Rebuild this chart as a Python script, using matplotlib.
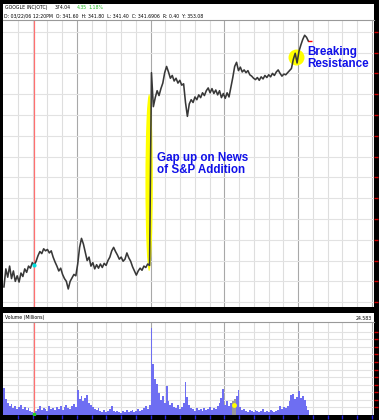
import matplotlib
matplotlib.use("Agg")
import matplotlib.pyplot as plt
from matplotlib.patches import Ellipse
import numpy as np

# 10 minute bars, 39 per trading day, 5 days on screen
BARS_PER_DAY = 39

close = [
    # day 0
    338.6, 341.2, 340.0, 341.6, 339.8, 340.9, 339.4, 340.2, 339.3, 340.6,
    340.1, 341.2, 340.7, 341.6, 341.3, 342.1, 341.7, 342.3, 343.1, 343.7,
    343.4, 344.1, 343.8, 344.0, 343.5, 343.8, 342.9, 342.2, 341.6, 340.9,
    341.3, 340.4, 339.8, 339.4, 338.3, 339.4, 339.9, 340.4, 340.2,
    # day 1
    341.9, 344.3, 345.6, 344.8, 343.6, 342.4, 342.9, 341.6, 342.1, 341.2,
    341.8, 341.3, 341.9, 341.4, 342.0, 341.7, 342.4, 342.9, 343.8, 344.3,
    343.7, 343.2, 342.6, 342.9, 342.3, 342.6, 343.5, 342.8, 342.3, 341.5,
    340.9, 340.3, 340.9, 341.3, 341.0, 341.6, 341.4, 341.9, 341.7,
    # day 2 (gap up)
    369.5, 364.6, 365.9, 366.9, 366.2, 367.2, 368.0, 369.5, 370.4, 369.6,
    368.7, 369.1, 368.3, 368.7, 368.0, 368.4, 367.7, 367.9, 365.2, 363.2,
    365.0, 365.6, 365.2, 366.0, 365.6, 366.3, 365.9, 366.6, 366.2, 366.9,
    367.3, 366.6, 367.2, 366.5, 367.0, 366.3, 366.9, 365.9, 366.5,
    # day 3
    365.8, 366.6, 366.0, 367.4, 368.8, 370.4, 371.0, 369.8, 370.3, 369.6,
    369.9, 369.5, 369.8, 369.2, 369.0, 368.7, 368.5, 368.8, 368.4, 368.9,
    368.6, 369.1, 368.8, 369.2, 368.9, 369.4, 369.1, 369.6, 369.9, 369.4,
    369.0, 369.3, 369.2, 369.5, 369.8, 370.1, 371.4, 372.3, 370.9,
    # day 4
    372.6, 373.5, 374.3, 374.9, 374.6, 374.04,
]

volume = [
    7.2, 4.3, 3.2, 2.4, 2.9, 1.9, 2.4, 1.6, 2.1, 2.7,
    1.6, 2.1, 1.3, 1.9, 1.1, 0.8, 0.5, 1.1, 1.6, 2.4,
    1.3, 1.9, 1.6, 1.1, 2.4, 1.6, 1.9, 1.3, 2.1, 1.6,
    2.4, 1.3, 2.1, 2.7, 1.9, 1.6, 2.4, 2.9, 2.1,
    6.7, 4.3, 5.1, 3.7, 4.5, 5.3, 3.2, 2.7, 2.1, 1.6,
    1.3, 1.9, 1.1, 0.8, 1.3, 0.8, 1.1, 1.6, 2.4, 1.1,
    0.8, 1.1, 0.8, 0.5, 1.1, 0.8, 1.3, 0.8, 1.1, 1.3,
    0.8, 1.1, 1.6, 1.1, 1.3, 1.9, 2.4, 1.6, 2.7,
    23.0, 13.4, 9.6, 8.3, 5.9, 4.0, 5.1, 3.2, 7.7, 3.7,
    2.7, 3.2, 2.1, 1.9, 2.7, 1.6, 2.1, 3.2, 8.8, 4.8,
    2.7, 1.9, 1.6, 1.1, 1.9, 1.3, 1.6, 1.1, 1.9, 1.3,
    1.6, 2.1, 1.3, 1.9, 1.6, 2.4, 3.2, 4.5, 6.9,
    2.7, 3.7, 2.4, 3.2, 3.7, 4.3, 5.1, 6.7, 2.1, 1.3,
    1.6, 1.1, 0.8, 1.3, 1.1, 0.8, 1.3, 1.1, 0.8, 1.1,
    1.6, 0.8, 1.1, 0.8, 1.3, 1.1, 0.8, 1.1, 1.3, 2.4,
    1.6, 2.1, 1.9, 2.4, 3.7, 5.3, 5.6, 4.3, 4.8,
    6.4, 4.5, 5.1, 4.0, 2.4, 1.3,
]
marked_volume_bars = [121, 122]

symbol = "GOOGLE INC(OTC)"
last_price = "374.04"
change = "4.35"
change_pct = "1.18%"
cursor_info = "D: 03/22/06 12:20PM  O: 341.60  H: 341.80  L: 341.40  C: 341.6906  R: 0.40  Y: 353.08"
vol_title = "Volume (Millions)"
vol_max_label = "24.583"

cursor_day = 0.425
cursor_price = 341.69
gap_day, gap_low, gap_high = 1.981, 340.9, 366.4
breakout_day, breakout_price = 3.976, 371.8

# ---------------------------------------------------------------
W, H = 379, 420
fig = plt.figure(figsize=(W / 100, H / 100), dpi=100, facecolor="black")


def px_axes(left, top, right, bottom):
    return fig.add_axes([left / W, 1 - bottom / H, (right - left) / W, (bottom - top) / H])


x = (np.arange(len(close)) + 0.5) / BARS_PER_DAY
xmax = 5.03
vgrid = np.arange(0.2, 5.01, 0.2)


def draw_grid(ax, hlines):
    for g in vgrid:
        day_line = abs(g - round(g)) < 1e-6
        ax.axvline(g, color="#a8a8a8" if day_line else "#dedede", lw=0.8, zorder=0)
    for h in hlines:
        ax.axhline(h, color="#e2e2e2", lw=0.8, zorder=0)
    ax.axvline(cursor_day, color="#ff7070", lw=0.9, zorder=1)


# header strip of the price pane
hdr = px_axes(3, 4, 374, 20)
hdr.set_facecolor("white")
hdr.set_xticks([]); hdr.set_yticks([])
for s in hdr.spines.values():
    s.set_visible(False)
fs = 3.3
fig.text(5 / W, 1 - 7.5 / H, symbol, fontsize=fs, va="center", color="black")
fig.text(55 / W, 1 - 7.5 / H, last_price, fontsize=fs, va="center", color="black")
fig.text(77 / W, 1 - 7.5 / H, change, fontsize=fs, va="center", color="#22bb22")
fig.text(88 / W, 1 - 7.5 / H, change_pct, fontsize=fs, va="center", color="#22bb22")
fig.text(4 / W, 1 - 15.5 / H, cursor_info, fontsize=fs, va="center", color="black")

# price pane
ax = px_axes(3, 20, 374, 307)
ax.set_facecolor("white")
ax.set_xlim(0, xmax)
ax.set_ylim(335.7, 377.1)
price_grid = 336.4 + 3 * np.arange(14)
draw_grid(ax, price_grid)

ax.add_patch(Ellipse((gap_day, (gap_low + gap_high) / 2), 0.1, gap_high - gap_low,
                     color="#ffff00", lw=0, zorder=2))
ax.plot([breakout_day], [breakout_price], "o", ms=11.5, color="#ffff00", mec="none", zorder=2)
ax.plot(x, close, color="#383838", lw=1.15, zorder=3)
ax.plot([x[-1] + 0.02], [close[-1]], marker="_", ms=3, color="red", zorder=4)
ax.plot([cursor_day], [cursor_price], "o", ms=2, color="#00e0e0", zorder=4)

ax.text(2.09, 358.0, "Gap up on News\nof S&P Addition", color="#1010e8", fontsize=8.4,
        fontweight="bold", family="Liberation Sans", va="top", ha="left", linespacing=0.95, zorder=5)
ax.text(4.125, 373.3, "Breaking\nResistance", color="#1010e8", fontsize=8.4,
        fontweight="bold", family="Liberation Sans", va="top", ha="left", linespacing=0.95, zorder=5)

ax.set_xticks([])
ax.yaxis.tick_right()
ax.set_yticks(price_grid)
ax.tick_params(axis="y", colors="#cc0000", length=3, width=1, labelright=False)
for name, s in ax.spines.items():
    s.set_visible(name == "top")
ax.spines["top"].set_color("#999999")

# volume header
vh = px_axes(3, 313, 374, 322)
vh.set_facecolor("white")
vh.set_xticks([]); vh.set_yticks([])
for s in vh.spines.values():
    s.set_visible(False)
fig.text(5 / W, 1 - 318 / H, vol_title, fontsize=fs, va="center", color="black")
fig.text(372 / W, 1 - 318 / H, vol_max_label, fontsize=fs, va="center", ha="right", color="black")

# volume pane
av = px_axes(3, 322, 374, 415)
av.set_facecolor("white")
av.set_xlim(0, xmax)
av.set_ylim(0, 24.583)
vol_grid = np.arange(2, 24, 2)
draw_grid(av, vol_grid)
colors = ["#9a9a9a" if i in marked_volume_bars else "#6e6ef2" for i in range(len(volume))]
av.bar(x, volume, width=1 / BARS_PER_DAY, color=colors, lw=0, zorder=2)
mark = marked_volume_bars[0]
av.plot([(x[mark] + x[mark + 1]) / 2], [volume[mark] - 1.0], "o", ms=3.5, color="#ffff00", mec="none", zorder=3)
av.plot([cursor_day], [0.2], "s", ms=1.5, color="#22cc22", zorder=3)

av.set_xticks(vgrid)
av.tick_params(axis="x", colors="#2222dd", length=3, width=1, labelbottom=False)
av.yaxis.tick_right()
av.set_yticks(vol_grid)
av.tick_params(axis="y", colors="#cc0000", length=3, width=1, labelright=False)
for name, s in av.spines.items():
    s.set_visible(name == "top")
av.spines["top"].set_color("#999999")

fig.savefig("out.png", dpi=100, facecolor="black")
